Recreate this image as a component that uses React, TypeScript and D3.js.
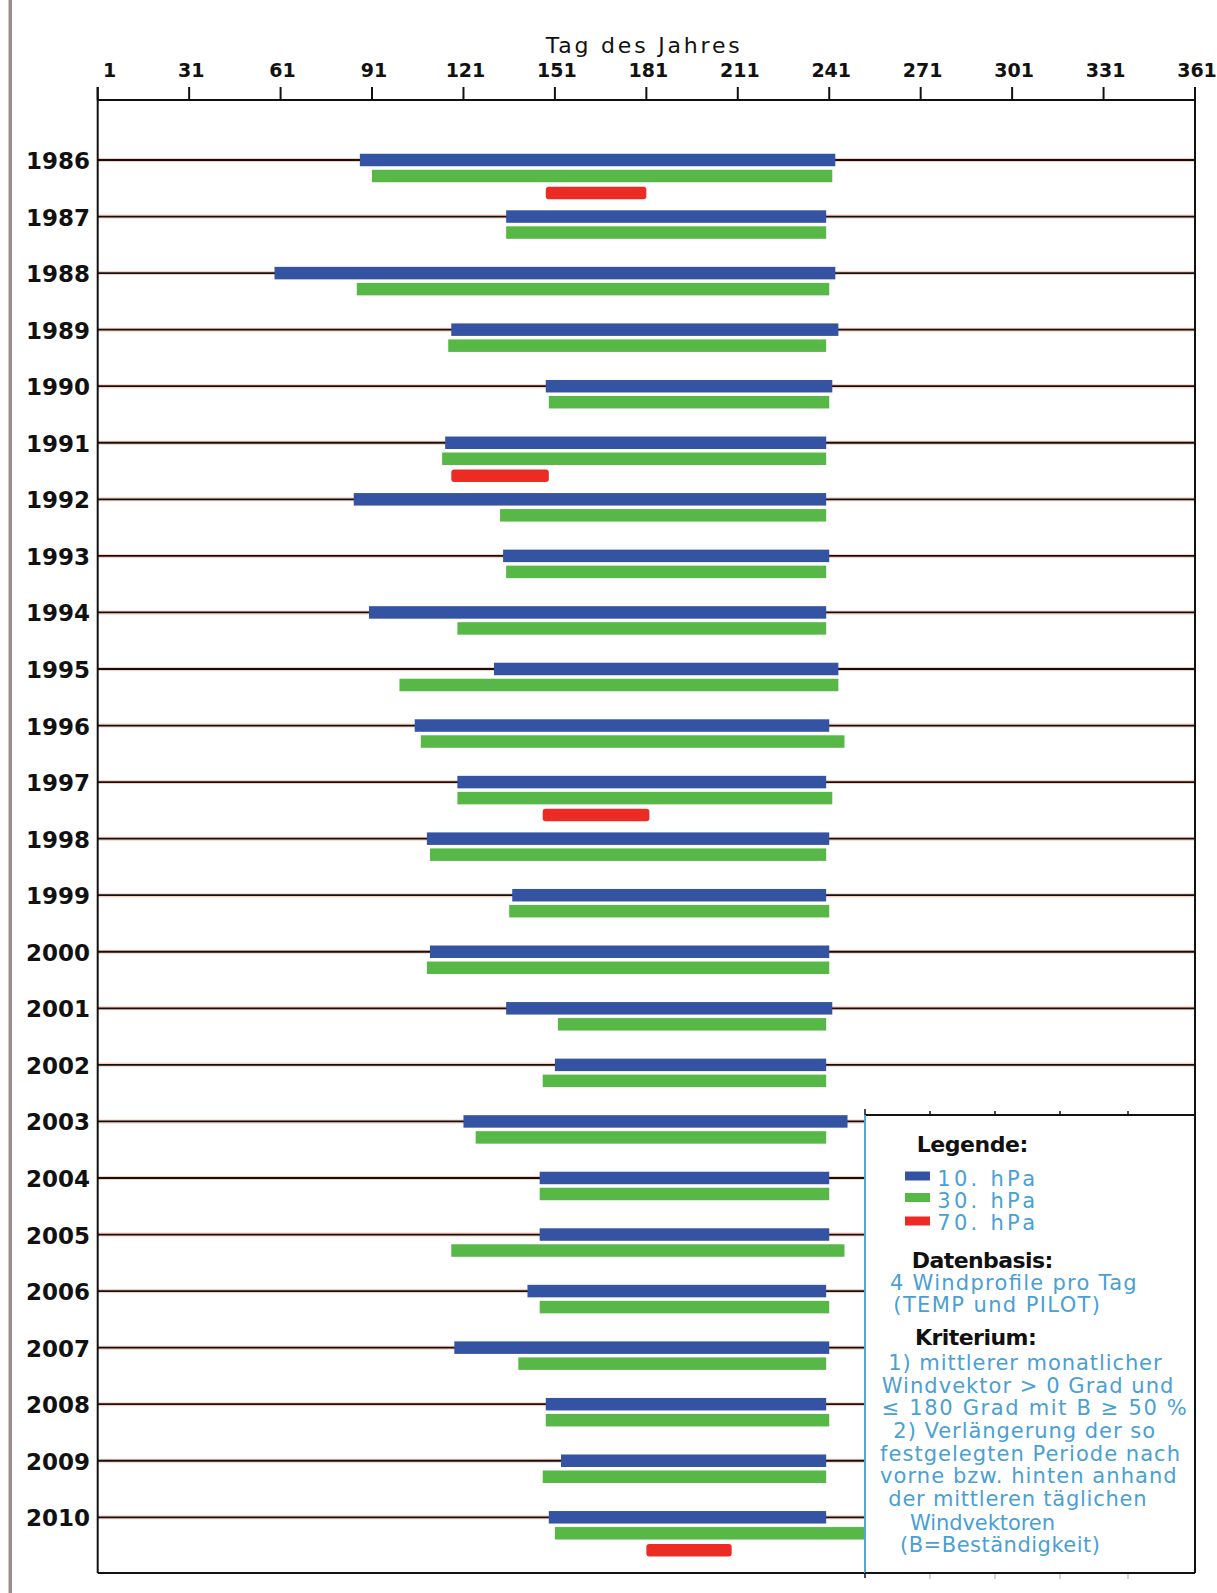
import React from "react";
import * as d3 from "d3";

// ---- data (day of year) ----
const years = [1986, 1987, 1988, 1989, 1990, 1991, 1992, 1993, 1994, 1995, 1996, 1997, 1998, 1999, 2000, 2001, 2002, 2003, 2004, 2005, 2006, 2007, 2008, 2009, 2010];
const hPa10Start = [87, 135, 59, 117, 148, 115, 85, 134, 90, 131, 105, 119, 109, 137, 110, 135, 151, 121, 146, 146, 142, 118, 148, 153, 149];
const hPa10End = [243, 240, 243, 244, 242, 240, 240, 241, 240, 244, 241, 240, 241, 240, 241, 242, 240, 247, 241, 241, 240, 241, 240, 240, 240];
const hPa30Start = [91, 135, 86, 116, 149, 114, 133, 135, 119, 100, 107, 119, 110, 136, 109, 152, 147, 125, 146, 117, 146, 139, 148, 147, 151];
const hPa30End = [242, 240, 241, 240, 241, 240, 240, 240, 240, 244, 246, 242, 240, 241, 241, 240, 240, 240, 241, 246, 241, 240, 241, 240, 270];
const hPa70Years = [1986, 1991, 1997, 2010];
const hPa70Start = [148, 117, 147, 181];
const hPa70End = [181, 149, 182, 209];
const dayTicks = [1, 31, 61, 91, 121, 151, 181, 211, 241, 271, 301, 331, 361];

const BLUE = "#3553a3";
const GREEN = "#57b848";
const RED = "#ec2b24";
const LTXT = "#4a9fd3";
const FONT = "'DejaVu Sans', sans-serif";

export default function App() {
  const W = 1217, H = 1593;
  const x = d3.scaleLinear().domain([1, 361]).range([97.7, 1195]);
  const y = d3.scaleLinear().domain([1986, 2010]).range([160, 1517.3]);
  const yTop = 100, yBot = 1573;
  const xL = x(1), xR = x(361);
  const barH = 12.5;

  const legX = 865, legY = 1115, legR = 1195, legB = yBot;

  const lt = (xx: number, yy: number, w: number, s: string, bold = false, key?: string) => (
    <text key={key ?? s} x={xx} y={yy} textLength={w} lengthAdjust="spacing"
      fontFamily={FONT} fontSize={bold ? 22 : 21} fontWeight={bold ? "bold" : "normal"}
      fill={bold ? "#111" : LTXT}>{s}</text>
  );

  return (
    <div style={{ position: "absolute", left: 0, top: 0 }}>
      <svg width={W} height={H} viewBox={`0 0 ${W} ${H}`} style={{ display: "block", background: "#fff" }}>
        <rect x={0} y={0} width={W} height={H} fill="#fff" />
        {/* left page border */}
        <rect x={8.5} y={0} width={3.5} height={H} fill="#9a8f8c" />

        {/* title */}
        <text x={545.7} y={53} textLength={194} lengthAdjust="spacing" fontFamily={FONT} fontSize={22} fill="#111">Tag des Jahres</text>

        {/* year lines */}
        {years.map((yr) => (
          <g key={"l" + yr}>
            <line x1={xL} x2={xR} y1={y(yr)} y2={y(yr)} stroke="#f6a68c" strokeWidth={4} opacity={0.55} />
            <line x1={xL} x2={xR} y1={y(yr)} y2={y(yr)} stroke="#111" strokeWidth={1.8} />
          </g>
        ))}

        {/* bars */}
        {years.map((yr, i) => (
          <g key={"b" + yr}>
            <rect x={x(hPa10Start[i])} width={x(hPa10End[i]) - x(hPa10Start[i])} y={y(yr) - barH / 2} height={barH} fill={BLUE} />
            <rect x={x(hPa30Start[i])} width={x(hPa30End[i]) - x(hPa30Start[i])} y={y(yr) + 16 - barH / 2} height={barH} fill={GREEN} />
          </g>
        ))}
        {hPa70Years.map((yr, i) => (
          <rect key={"r" + yr} x={x(hPa70Start[i])} width={x(hPa70End[i]) - x(hPa70Start[i])} y={y(yr) + 33 - barH / 2} height={barH} rx={3} fill={RED} />
        ))}

        {/* axes frame */}
        <line x1={xL} x2={xR} y1={yTop} y2={yTop} stroke="#111" strokeWidth={2} />
        <line x1={xL} x2={xR} y1={yBot} y2={yBot} stroke="#111" strokeWidth={2} />
        <line x1={xL} x2={xL} y1={87} y2={yBot} stroke="#111" strokeWidth={2} />
        <line x1={xR} x2={xR} y1={87} y2={yBot} stroke="#111" strokeWidth={2} />
        {dayTicks.map((t) => (
          <g key={"t" + t}>
            <line x1={x(t)} x2={x(t)} y1={87} y2={yTop} stroke="#111" strokeWidth={2} />
            <text x={x(t) + (t < 10 ? 12 : 2)} y={76.5} textAnchor="middle" fontFamily={FONT} fontSize={19} fontWeight="bold" fill="#111">{t}</text>
          </g>
        ))}

        {/* year labels */}
        {years.map((yr) => (
          <text key={"y" + yr} x={90} y={y(yr) + 9} textAnchor="end" fontFamily={FONT} fontSize={23} fontWeight="bold" fill="#111">{yr}</text>
        ))}

        {/* legend box */}
        <rect x={legX} y={legY} width={legR - legX} height={legB - legY} fill="#fff" />
        <line x1={legX} x2={legR} y1={legY} y2={legY} stroke="#111" strokeWidth={1.8} />
        <line x1={legX} x2={legX} y1={legY} y2={legB} stroke="#5aa5cf" strokeWidth={2} />
        <line x1={legR} x2={legR} y1={legY} y2={legB} stroke="#111" strokeWidth={2} />
        <line x1={legX} x2={legR} y1={legB} y2={legB} stroke="#111" strokeWidth={2} />
        <line x1={legX} x2={legX} y1={legY - 6} y2={legY} stroke="#111" strokeWidth={1.5} />
        <line x1={legX} x2={legX} y1={legB} y2={legB + 5} stroke="#111" strokeWidth={1.5} />
        {[930, 995, 1060, 1128].map((tx) => (
          <g key={"lt" + tx}>
            <line x1={tx} x2={tx} y1={legY - 4} y2={legY} stroke="#111" strokeWidth={1.5} />
            <line x1={tx} x2={tx} y1={legB + 1} y2={legB + 6} stroke="#b8c8d8" strokeWidth={1.5} />
          </g>
        ))}

        {lt(916.7, 1152, 111.7, "Legende:", true)}
        <rect x={905} y={1171.5} width={25} height={9} fill={BLUE} />
        <rect x={905} y={1193} width={25} height={9} fill={GREEN} />
        <rect x={905} y={1216.5} width={25} height={9} fill={RED} />
        {lt(937.3, 1186, 97.7, "10. hPa", false, "a")}
        {lt(937.3, 1208, 97.7, "30. hPa", false, "b")}
        {lt(937.3, 1230, 97.7, "70. hPa", false, "c")}
        {lt(911.7, 1268, 141.7, "Datenbasis:", true)}
        {lt(890, 1290, 246.7, "4 Windprofile pro Tag")}
        {lt(893.3, 1312, 206.7, "(TEMP und PILOT)")}
        {lt(915, 1345, 121.7, "Kriterium:", true)}
        {lt(888.3, 1370, 273.3, "1) mittlerer monatlicher")}
        {lt(881.7, 1393, 291.7, "Windvektor > 0 Grad und")}
        {lt(881.7, 1415, 305, "≤ 180 Grad mit B ≥ 50 %")}
        {lt(893.3, 1438, 261.7, "2) Verlängerung der so")}
        {lt(880, 1461, 300, "festgelegten Periode nach")}
        {lt(880, 1483, 296.7, "vorne bzw. hinten anhand")}
        {lt(888.3, 1506, 258.3, "der mittleren täglichen")}
        {lt(910, 1530, 145, "Windvektoren")}
        {lt(900, 1552, 200, "(B=Beständigkeit)")}
      </svg>
    </div>
  );
}
